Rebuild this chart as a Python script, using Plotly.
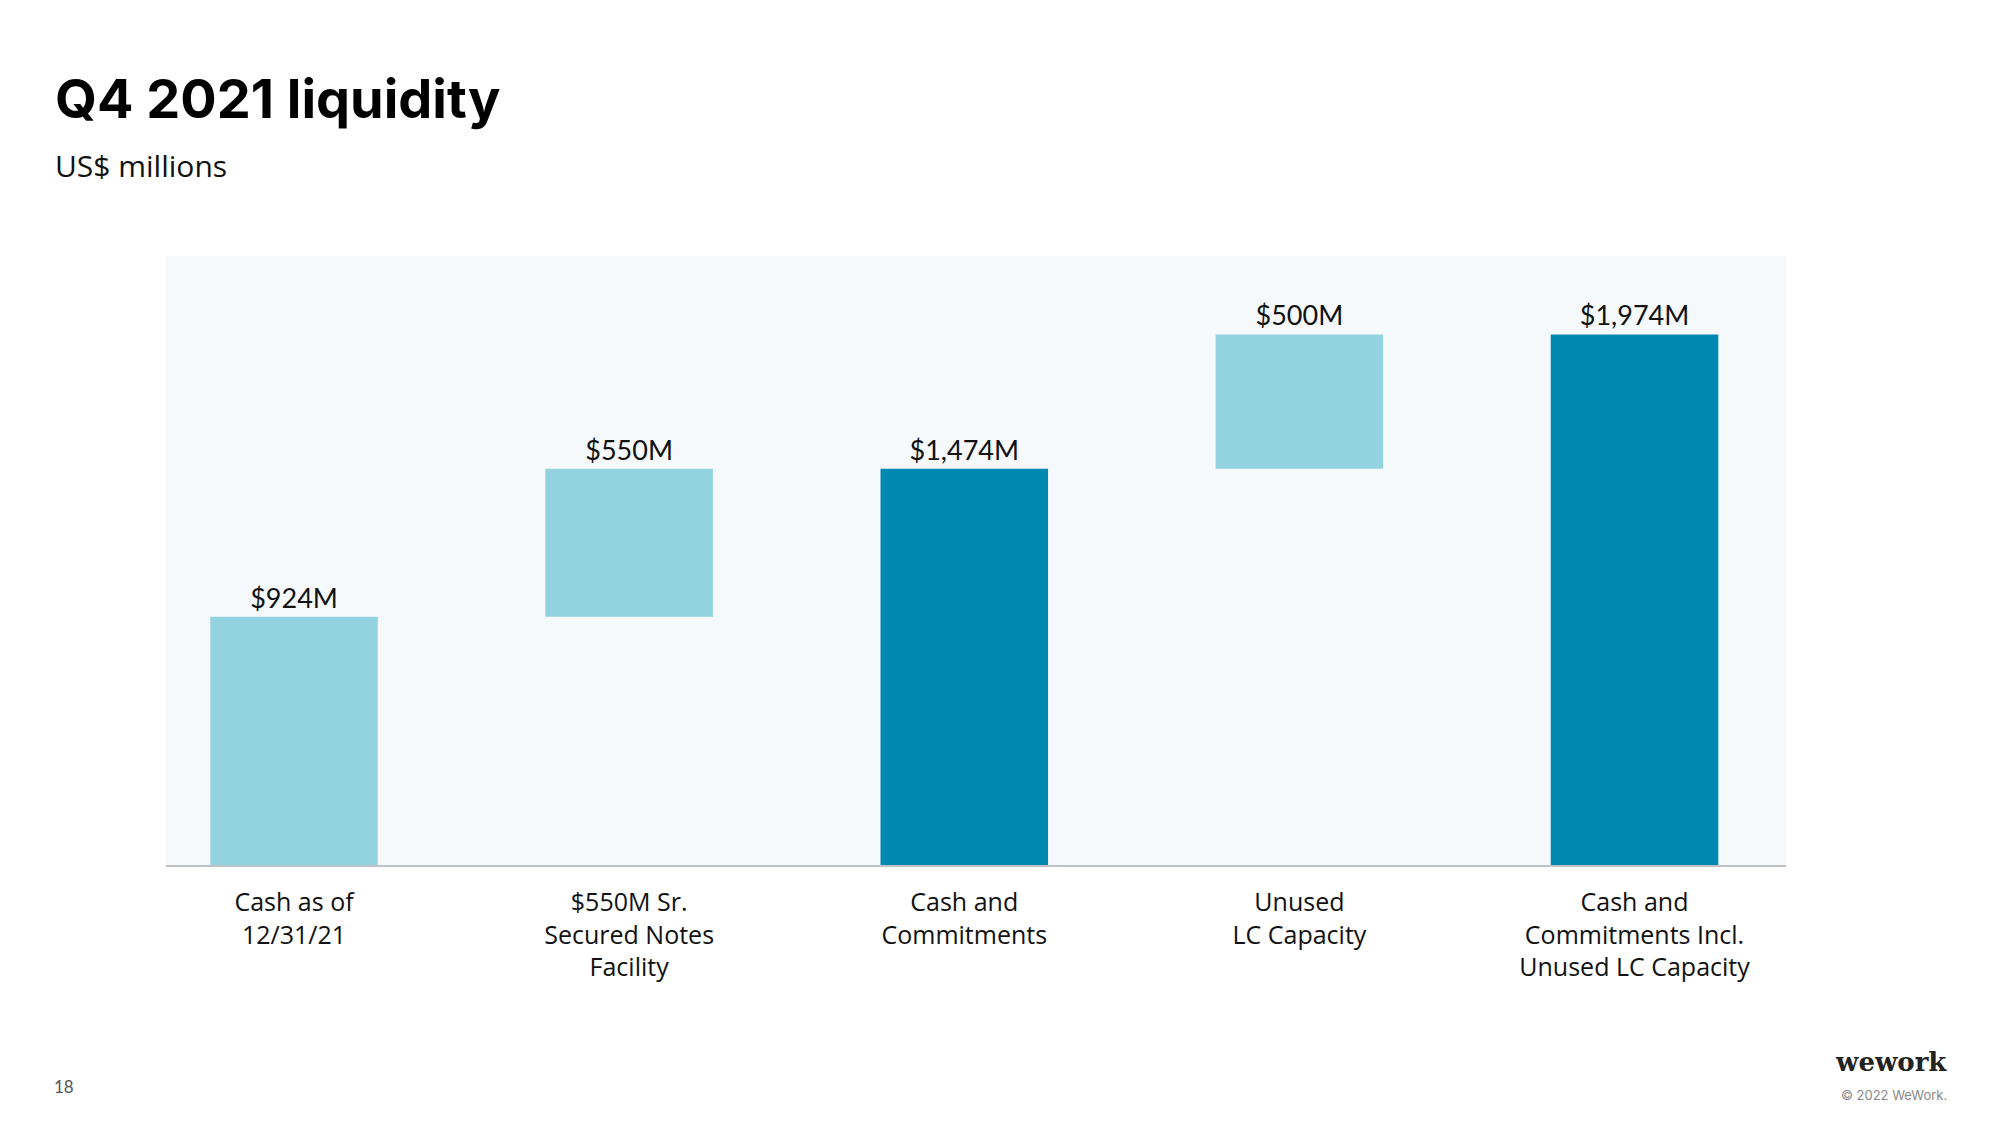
import plotly.graph_objects as go

categories = ["Cash as of<br>12/31/21", "$550M Sr.<br>Secured Notes<br>Facility",
              "Cash and<br>Commitments", "Unused<br>LC Capacity",
              "Cash and<br>Commitments Incl.<br>Unused LC Capacity"]
values = [924, 550, 1474, 500, 1974]
bases = [0, 924, 0, 1474, 0]
kinds = ["step", "step", "total", "step", "total"]

LIGHT = "#93D3DF"
DARK = "#0088B1"
colors = [DARK if k == "total" else LIGHT for k in kinds]
labels = [f"${v:,}M" for v in values]

# page offset (default body margin of the html page)
OFF = 8
# plot area in page pixels
L, R, T, B = 166, 1786, 256, 865
W, H = 2000, 1125

def px_x(px):
    return (px - L) / (R - L)

def px_y(py):
    return (B - py) / (B - T)

fig = go.Figure()
fig.add_trace(go.Bar(
    x=list(range(len(categories))),
    y=values,
    base=bases,
    marker=dict(color=colors, line=dict(width=0)),
    width=0.5,
    text=labels,
    textposition="outside",
    textfont=dict(family="Lato", size=27, color="#111111"),
    cliponaxis=False,
    hoverinfo="skip",
))

fig.update_layout(
    width=W - OFF, height=H - OFF,
    margin=dict(l=L - OFF, r=W - R, t=T - OFF, b=H - B, pad=0),
    paper_bgcolor="white",
    plot_bgcolor="#F5F9FC",
    showlegend=False,
    xaxis=dict(
        tickmode="array",
        tickvals=list(range(len(categories))),
        ticktext=categories,
        range=[-0.382, 4.452],
        showgrid=False, zeroline=False,
        showline=True, linecolor="#BFC3C6", linewidth=2,
        ticks="", ticklen=0,
        ticklabelstandoff=14,
        tickfont=dict(family="Open Sans", size=25, color="#111111"),
        fixedrange=True,
    ),
    yaxis=dict(
        range=[0, 2266],
        showgrid=False, zeroline=False, showticklabels=False,
        showline=False, fixedrange=True,
    ),
)

annotations = [
    dict(text="<b>Q4 2021 liquidity</b>", x=px_x(53), y=px_y(98), xref="paper", yref="paper",
         xanchor="left", yanchor="middle", showarrow=False,
         font=dict(family="Inter", size=54, color="#000000")),
    dict(text="US$ millions", x=px_x(53), y=px_y(166), xref="paper", yref="paper",
         xanchor="left", yanchor="middle", showarrow=False,
         font=dict(family="Open Sans", size=30, color="#111111")),
    dict(text="18", x=px_x(52), y=px_y(1086), xref="paper", yref="paper",
         xanchor="left", yanchor="middle", showarrow=False,
         font=dict(family="Lato", size=17, color="#555555")),
    dict(text="<b>wework</b>", x=px_x(1949), y=px_y(1062), xref="paper", yref="paper",
         xanchor="right", yanchor="middle", showarrow=False,
         font=dict(family="DejaVu Serif", size=26, color="#222222")),
    dict(text="© 2022 WeWork.", x=px_x(1949), y=px_y(1095), xref="paper", yref="paper",
         xanchor="right", yanchor="middle", showarrow=False,
         font=dict(family="Inter", size=13, color="#888888")),
]
fig.update_layout(annotations=annotations)

fig.write_html("out.html")
